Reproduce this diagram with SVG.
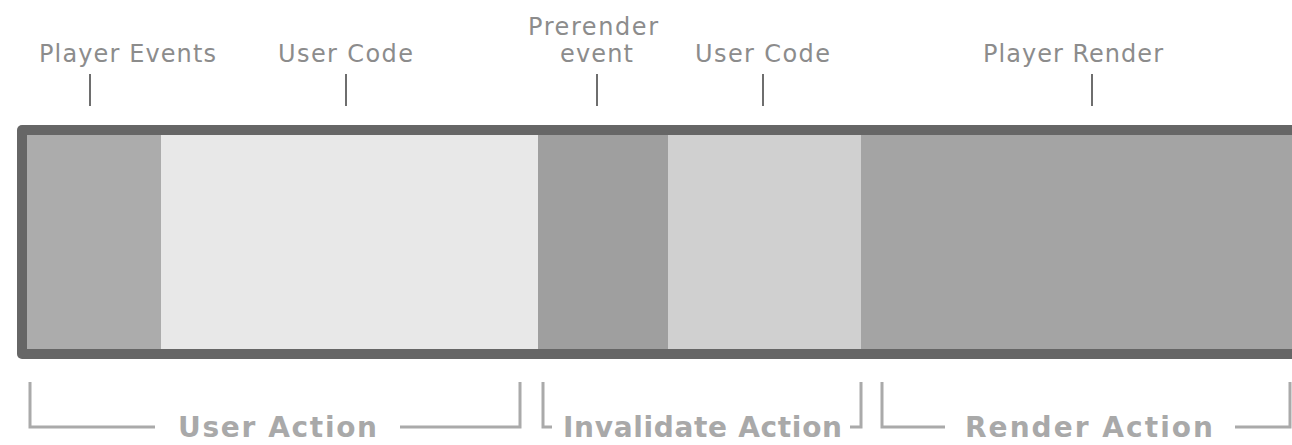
<svg xmlns="http://www.w3.org/2000/svg" width="1292" height="445" viewBox="0 0 1292 445">
<style>
.lbl{font-family:"DejaVu Sans","Verdana",sans-serif;font-size:24px;fill:#8c8c8c}
.act{font-family:"DejaVu Sans","Verdana",sans-serif;font-size:28px;font-weight:bold;fill:#a9a9a9}
.tick{stroke:#6e6e6e;stroke-width:2;fill:none}
.brk{stroke:#aaaaaa;stroke-width:3;fill:none}
</style>
<rect x="0" y="0" width="1292" height="445" fill="#ffffff"/>
<g id="bar">
<rect x="17" y="125" width="1300" height="234" rx="5" fill="#666666"/>
</g>
<g id="player-events">
<rect x="27" y="135" width="134" height="214" fill="#acacac"/>
<text class="lbl" x="39" y="62" textLength="177" lengthAdjust="spacing">Player Events</text>
</g>
<g id="user-code-1">
<rect x="161" y="135" width="377" height="214" fill="#e8e8e8"/>
<text class="lbl" x="278" y="62" textLength="135" lengthAdjust="spacing">User Code</text>
</g>
<g id="prerender-event">
<rect x="538" y="135" width="130" height="214" fill="#9f9f9f"/>
<text class="lbl" x="528" y="35" textLength="130" lengthAdjust="spacing">Prerender</text>
<text class="lbl" x="560" y="62" textLength="73" lengthAdjust="spacing">event</text>
</g>
<g id="user-code-2">
<rect x="668" y="135" width="193" height="214" fill="#d0d0d0"/>
<text class="lbl" x="695" y="62" textLength="135" lengthAdjust="spacing">User Code</text>
</g>
<g id="player-render">
<rect x="861" y="135" width="440" height="214" fill="#a4a4a4"/>
<text class="lbl" x="983" y="62" textLength="180" lengthAdjust="spacing">Player Render</text>
</g>
<g id="user-action">
<text class="act" x="178" y="437" textLength="199" lengthAdjust="spacing">User Action</text>
</g>
<g id="invalidate-action">
<text class="act" x="563" y="437" textLength="279" lengthAdjust="spacing">Invalidate Action</text>
</g>
<g id="render-action">
<text class="act" x="965" y="437" textLength="248" lengthAdjust="spacing">Render Action</text>
</g>
<g id="connectors">
<line class="tick" x1="90" y1="74" x2="90" y2="106"/>
<line class="tick" x1="346" y1="74" x2="346" y2="106"/>
<line class="tick" x1="597" y1="74" x2="597" y2="106"/>
<line class="tick" x1="763" y1="74" x2="763" y2="106"/>
<line class="tick" x1="1092" y1="74" x2="1092" y2="106"/>
<path class="brk" d="M30 382 V427 H155"/>
<path class="brk" d="M400 427 H520 V382"/>
<path class="brk" d="M543 382 V427 H552"/>
<path class="brk" d="M850 427 H861 V382"/>
<path class="brk" d="M882 382 V427 H945"/>
<path class="brk" d="M1235 427 H1290 V382"/>
</g>
</svg>
